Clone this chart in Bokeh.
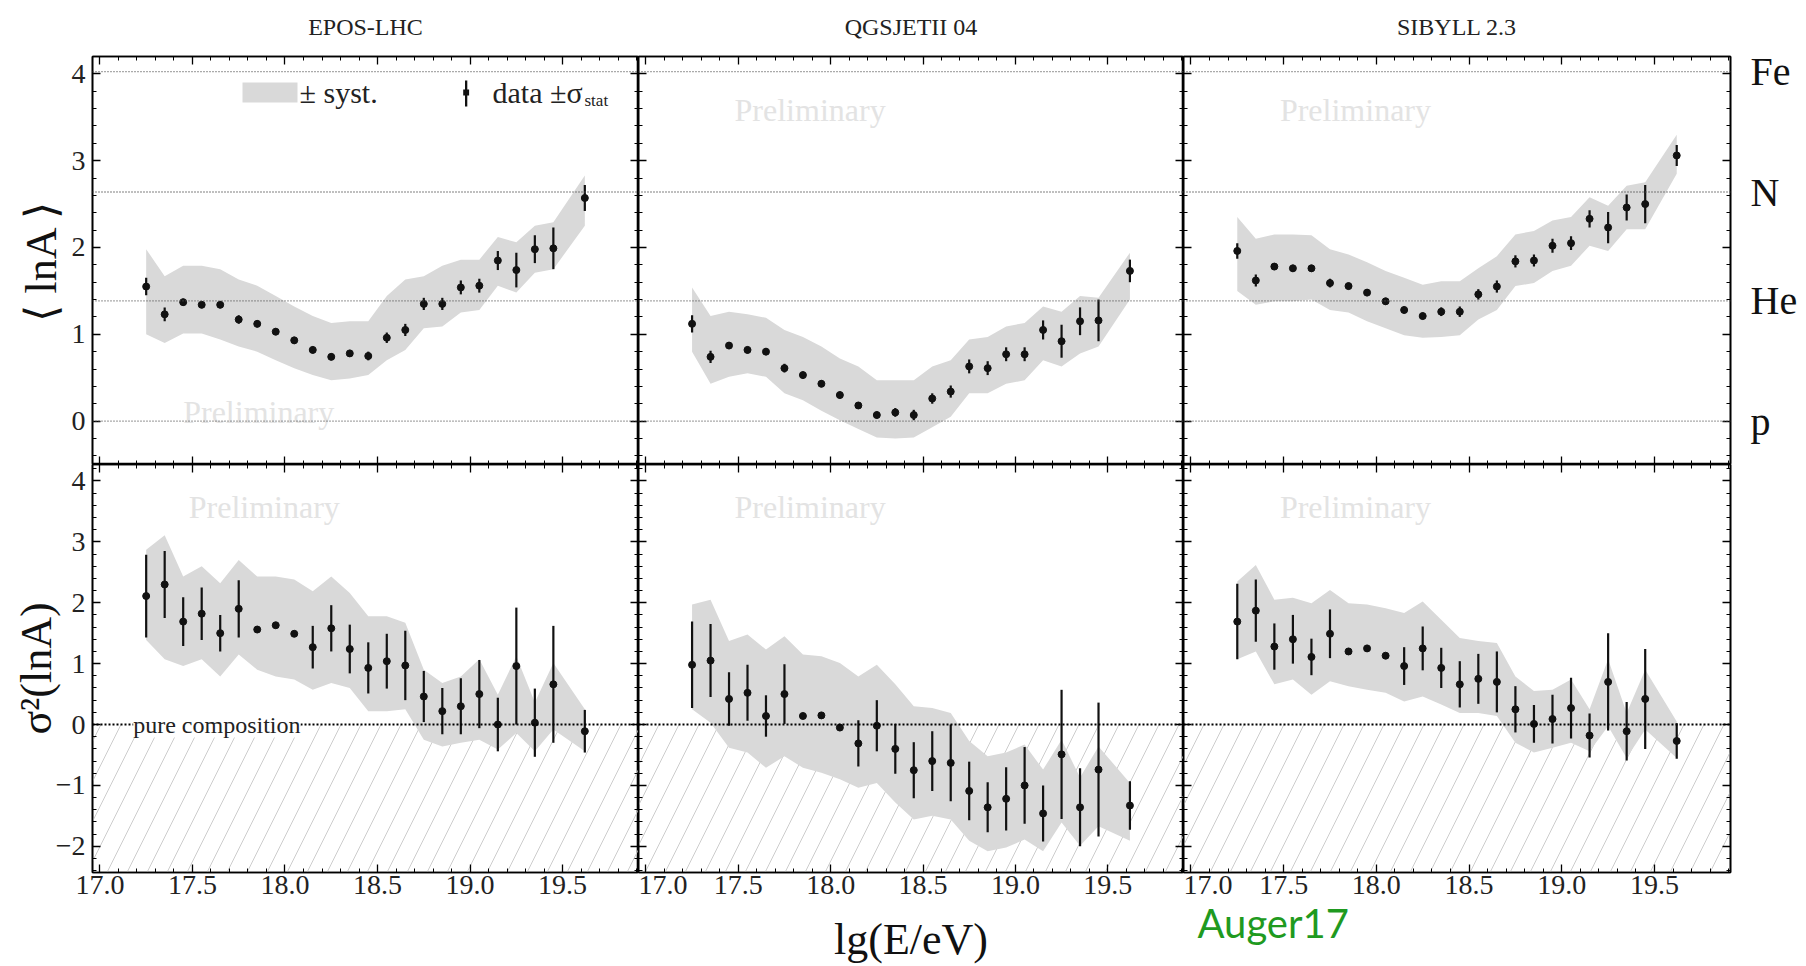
from bokeh.plotting import figure
from bokeh.layouts import column, row
from bokeh.models import (Range1d, Span, Label, BoxAnnotation, FixedTicker, LinearAxis, Grid, Title,
                          SingleIntervalTicker, PrintfTickFormatter, CustomJSTickFormatter,
                          ColumnDataSource)
from bokeh.embed import file_html
from bokeh.resources import INLINE
from bokeh.core.properties import value

SERIF = "Liberation Serif"

# ---------------- data ----------------
lgE = [17.25, 17.35, 17.45, 17.55, 17.65, 17.75, 17.85, 17.95, 18.05, 18.15, 18.25, 18.35,
       18.45, 18.55, 18.65, 18.75, 18.85, 18.95, 19.05, 19.15, 19.25, 19.35, 19.45, 19.62]

model_names = ["EPOS-LHC", "QGSJETII 04", "SIBYLL 2.3"]
element_names = ["p", "He", "N", "Fe"]
element_lnA = [0.0, 1.386, 2.639, 4.025]

# <lnA>
epos_mean = [1.55, 1.23, 1.37, 1.34, 1.34, 1.17, 1.12, 1.03, 0.93, 0.82, 0.74, 0.78, 0.75, 0.96, 1.05, 1.35, 1.35, 1.54, 1.56, 1.85, 1.74, 1.98, 1.99, 2.57]
epos_mean_err = [0.10, 0.08, 0.04, 0.04, 0.04, 0.05, 0.04, 0.04, 0.04, 0.04, 0.04, 0.04, 0.05, 0.06, 0.07, 0.07, 0.07, 0.08, 0.08, 0.11, 0.20, 0.16, 0.24, 0.15]
epos_mean_hi = [1.98, 1.67, 1.79, 1.79, 1.75, 1.63, 1.56, 1.44, 1.32, 1.21, 1.13, 1.15, 1.15, 1.44, 1.63, 1.67, 1.79, 1.86, 1.86, 2.12, 2.06, 2.25, 2.29, 2.83]
epos_mean_lo = [1.00, 0.90, 1.01, 1.01, 0.94, 0.86, 0.80, 0.70, 0.61, 0.53, 0.47, 0.49, 0.53, 0.70, 0.82, 1.07, 1.09, 1.25, 1.28, 1.56, 1.48, 1.71, 1.75, 2.25]

qgs_mean = [1.12, 0.74, 0.87, 0.82, 0.80, 0.61, 0.53, 0.43, 0.30, 0.18, 0.07, 0.10, 0.07, 0.26, 0.34, 0.63, 0.61, 0.77, 0.77, 1.05, 0.92, 1.15, 1.16, 1.73]
qgs_mean_err = [0.10, 0.07, 0.04, 0.04, 0.04, 0.05, 0.04, 0.04, 0.04, 0.04, 0.04, 0.05, 0.06, 0.06, 0.07, 0.08, 0.08, 0.08, 0.08, 0.11, 0.19, 0.16, 0.24, 0.13]
qgs_mean_hi = [1.54, 1.21, 1.26, 1.23, 1.19, 1.05, 0.97, 0.86, 0.72, 0.63, 0.47, 0.47, 0.47, 0.63, 0.70, 0.94, 0.97, 1.09, 1.13, 1.32, 1.26, 1.44, 1.42, 1.94]
qgs_mean_lo = [0.80, 0.43, 0.51, 0.55, 0.51, 0.32, 0.24, 0.12, 0.01, -0.09, -0.19, -0.20, -0.19, -0.07, 0.05, 0.32, 0.32, 0.43, 0.47, 0.70, 0.63, 0.78, 0.86, 1.40]

sib_mean = [1.96, 1.62, 1.78, 1.76, 1.76, 1.59, 1.555, 1.48, 1.38, 1.28, 1.21, 1.26, 1.26, 1.46, 1.55, 1.84, 1.85, 2.02, 2.05, 2.33, 2.23, 2.46, 2.50, 3.06]
sib_mean_err = [0.09, 0.07, 0.04, 0.04, 0.04, 0.05, 0.04, 0.04, 0.04, 0.04, 0.04, 0.05, 0.06, 0.06, 0.07, 0.07, 0.07, 0.08, 0.08, 0.10, 0.18, 0.15, 0.22, 0.12]
sib_mean_hi = [2.35, 2.10, 2.15, 2.15, 2.14, 1.98, 1.92, 1.83, 1.73, 1.65, 1.57, 1.61, 1.61, 1.76, 1.90, 2.15, 2.19, 2.31, 2.35, 2.58, 2.48, 2.71, 2.75, 3.30]
sib_mean_lo = [1.50, 1.34, 1.38, 1.38, 1.40, 1.28, 1.25, 1.15, 1.07, 0.99, 0.96, 0.97, 0.99, 1.17, 1.28, 1.555, 1.59, 1.73, 1.79, 2.02, 1.96, 2.21, 2.21, 2.85]

# sigma^2(lnA)
epos_var = [2.11, 2.30, 1.69, 1.82, 1.50, 1.90, 1.56, 1.63, 1.49, 1.27, 1.58, 1.24, 0.93, 1.04, 0.97, 0.46, 0.22, 0.30, 0.50, 0.00, 0.96, 0.03, 0.66, -0.11]
epos_var_err = [0.68, 0.55, 0.40, 0.43, 0.30, 0.47, 0.05, 0.05, 0.05, 0.35, 0.38, 0.40, 0.42, 0.45, 0.57, 0.42, 0.38, 0.46, 0.56, 0.44, 0.96, 0.56, 0.96, 0.35]
epos_var_hi = [2.87, 3.11, 2.43, 2.60, 2.32, 2.70, 2.43, 2.43, 2.38, 2.19, 2.43, 2.16, 1.78, 1.78, 1.67, 0.90, 0.68, 0.79, 1.07, 0.49, 1.12, 0.36, 1.01, 0.25]
epos_var_lo = [1.39, 1.07, 0.96, 1.07, 0.79, 1.15, 0.90, 0.79, 0.74, 0.57, 0.68, 0.60, 0.22, 0.22, 0.25, -0.25, -0.36, -0.30, -0.25, -0.41, -0.14, -0.44, -0.08, -0.44]

qgs_var = [0.98, 1.05, 0.42, 0.52, 0.14, 0.50, 0.14, 0.15, -0.05, -0.31, -0.02, -0.40, -0.75, -0.60, -0.63, -1.09, -1.36, -1.22, -1.00, -1.46, -0.49, -1.36, -0.74, -1.33]
qgs_var_err = [0.71, 0.60, 0.44, 0.46, 0.34, 0.49, 0.05, 0.05, 0.05, 0.38, 0.42, 0.41, 0.46, 0.49, 0.63, 0.48, 0.41, 0.52, 0.63, 0.46, 1.06, 0.64, 1.10, 0.40]
qgs_var_hi = [1.97, 2.05, 1.37, 1.48, 1.23, 1.45, 1.15, 1.12, 1.01, 0.79, 0.98, 0.66, 0.30, 0.27, 0.19, -0.27, -0.52, -0.46, -0.33, -0.74, -0.25, -0.87, -0.36, -0.96]
qgs_var_lo = [0.25, 0.03, -0.38, -0.46, -0.71, -0.52, -0.71, -0.79, -0.90, -1.04, -0.96, -1.28, -1.56, -1.50, -1.56, -1.91, -2.08, -2.02, -1.89, -2.08, -1.61, -1.99, -1.67, -1.91]

sib_var = [1.69, 1.87, 1.28, 1.40, 1.11, 1.49, 1.20, 1.25, 1.13, 0.96, 1.25, 0.93, 0.66, 0.75, 0.70, 0.25, 0.01, 0.09, 0.27, -0.18, 0.70, -0.11, 0.42, -0.27]
sib_var_err = [0.62, 0.51, 0.38, 0.40, 0.30, 0.40, 0.05, 0.05, 0.05, 0.31, 0.36, 0.33, 0.38, 0.41, 0.50, 0.38, 0.31, 0.40, 0.50, 0.36, 0.80, 0.48, 0.82, 0.29]
sib_var_hi = [2.35, 2.62, 2.05, 2.08, 1.99, 2.21, 1.99, 1.97, 1.91, 1.83, 2.02, 1.72, 1.42, 1.37, 1.34, 0.79, 0.55, 0.57, 0.74, 0.25, 1.07, 0.19, 0.90, 0.05]
sib_var_lo = [1.07, 1.20, 0.66, 0.74, 0.49, 0.71, 0.63, 0.57, 0.52, 0.38, 0.46, 0.33, 0.19, 0.19, 0.14, -0.30, -0.46, -0.38, -0.30, -0.44, -0.03, -0.55, -0.08, -0.55]

panel_data = [
    [(epos_mean, epos_mean_err, epos_mean_lo, epos_mean_hi),
     (qgs_mean, qgs_mean_err, qgs_mean_lo, qgs_mean_hi),
     (sib_mean, sib_mean_err, sib_mean_lo, sib_mean_hi)],
    [(epos_var, epos_var_err, epos_var_lo, epos_var_hi),
     (qgs_var, qgs_var_err, qgs_var_lo, qgs_var_hi),
     (sib_var, sib_var_err, sib_var_lo, sib_var_hi)],
]

# ---------------- layout constants ----------------
XMIN, XMAX = 16.96, 19.91
YRANGES = [(-0.5, 4.2), (-2.43, 4.27)]
FRAME_W = [546, 545, 547]
FRAME_H = [408, 409]
LEFT_B, RIGHT_B, TOP_B, BOTTOM_B = 92, 76, 56, 93
BAND = "#d9d9d9"
INK = "#111111"
TICK_FONT = "28px"


def fx(px, c):
    return XMIN + px / FRAME_W[c] * (XMAX - XMIN)


def fy(py, r):
    lo, hi = YRANGES[r]
    return hi - py / FRAME_H[r] * (hi - lo)


def style_axis(ax, labels):
    ax.axis_line_color = "black"
    ax.axis_line_width = 1.6
    ax.major_tick_in = 8
    ax.major_tick_out = 0
    ax.minor_tick_in = 4
    ax.minor_tick_out = 0
    ax.major_tick_line_color = "black"
    ax.major_tick_line_width = 1.3
    ax.minor_tick_line_color = "black"
    ax.minor_tick_line_width = 1.0
    if labels:
        ax.major_label_text_font = SERIF
        ax.major_label_text_font_size = TICK_FONT
        ax.major_label_text_color = "#222222"
    else:
        ax.formatter = CustomJSTickFormatter(code="return ''")
        ax.major_label_text_font_size = "0px"
        ax.major_label_standoff = 0


def xaxis(labels):
    ax = LinearAxis(ticker=SingleIntervalTicker(interval=0.5, num_minor_ticks=5),
                    formatter=PrintfTickFormatter(format="%.1f"))
    style_axis(ax, labels)
    if labels:
        ax.major_label_standoff = 3
    return ax


def yaxis(labels):
    ax = LinearAxis(ticker=SingleIntervalTicker(interval=1, num_minor_ticks=5),
                    major_label_overrides={-1: "\u22121", -2: "\u22122"})
    style_axis(ax, labels)
    if labels:
        ax.major_label_standoff = 7
    return ax


def big_label(ax, text, size, standoff, font=SERIF, color="#111111"):
    ax.axis_label = text
    ax.axis_label_text_font = font
    ax.axis_label_text_font_size = size
    ax.axis_label_text_font_style = "normal"
    ax.axis_label_text_color = color
    ax.axis_label_standoff = standoff


def make_panel(r, c):
    bl = LEFT_B if c == 0 else 0
    br = RIGHT_B if c == 2 else 0
    bt = TOP_B if r == 0 else 0
    bb = BOTTOM_B if r == 1 else 0
    p = figure(width=FRAME_W[c] + bl + br, height=FRAME_H[r] + bt + bb,
               x_range=Range1d(XMIN, XMAX), y_range=Range1d(*YRANGES[r]),
               min_border_left=bl, min_border_right=br, min_border_top=bt, min_border_bottom=bb,
               x_axis_location=None, y_axis_location=None, title=None,
               output_backend="svg", toolbar_location=None)
    p.outline_line_color = "black"
    p.outline_line_width = 1.6
    p.background_fill_color = "white"
    p.border_fill_color = "white"
    for g in p.select({"type": Grid}):
        g.visible = False

    # axes
    left = yaxis(c == 0)
    if c == 0:
        if r == 0:
            big_label(left, "\u27e8 lnA \u27e9", "44px", 3)
        else:
            big_label(left, "\u03c3\u00b2(lnA)", "44px", -8)
    p.add_layout(left, "left")
    p.add_layout(yaxis(False), "right")
    top = xaxis(False)
    if r == 0:
        big_label(top, model_names[c], "24px", 17, color="#222222")
    p.add_layout(top, "above")
    bottom = xaxis(r == 1)
    if r == 1 and c == 1:
        big_label(bottom, "lg(E/eV)", "44px", 18)
    p.add_layout(bottom, "below")

    if r == 0 and c == 2:
        el = LinearAxis(ticker=FixedTicker(ticks=element_lnA),
                        major_label_overrides={v: n for v, n in zip(element_lnA, element_names)})
        el.axis_line_color = None
        el.major_tick_line_color = None
        el.minor_tick_line_color = None
        el.major_tick_in = 0
        el.major_tick_out = 0
        el.major_label_standoff = 20
        el.major_label_text_font = SERIF
        el.major_label_text_font_size = "40px"
        el.major_label_text_color = "#111111"
        p.add_layout(el, "right")

    if r == 1 and c == 2:
        # empty spacer axis (only reserves room), then the note as a left-aligned title
        spacer = LinearAxis(ticker=FixedTicker(ticks=[]))
        spacer.axis_line_color = None
        spacer.major_tick_line_color = None
        spacer.minor_tick_line_color = None
        spacer.major_tick_in = 0
        spacer.major_tick_out = 0
        spacer.minor_tick_in = 0
        spacer.minor_tick_out = 0
        spacer.formatter = CustomJSTickFormatter(code="return ''")
        spacer.major_label_text_font_size = "0px"
        spacer.major_label_standoff = 0
        spacer.axis_label = "\u00a0"
        spacer.axis_label_text_font_size = "0px"
        spacer.axis_label_standoff = 19
        p.add_layout(spacer, "below")
        p.add_layout(Title(text="Auger17", align="left", offset=14, standoff=0,
                           vertical_align="bottom", text_font="Lato", text_font_size="40px",
                           text_font_style="normal", text_color="#1f9a1f"), "below")

    mean, err, lo, hi = panel_data[r][c]

    # hatched "unphysical" region below zero in the variance panels
    if r == 1:
        p.quad(left=XMIN, right=XMAX, bottom=YRANGES[1][0], top=0,
               fill_color=None, line_color=None, hatch_pattern="/",
               hatch_color="#cdcdcd", hatch_scale=40, hatch_weight=1.0)

    # Preliminary watermark
    if r == 0 and c == 0:
        px, py = 17.45, 0.1
    else:
        px, py = 17.48, 3.58
    p.text(x=[px], y=[py], text=["Preliminary"], text_font=value(SERIF),
           text_font_size="32px", text_color="#e3e3e3", text_baseline="middle")

    # systematic band
    p.varea(x=lgE, y1=lo, y2=hi, fill_color=BAND, fill_alpha=1.0)

    # reference lines
    if r == 0:
        for v in element_lnA:
            p.add_layout(Span(location=v, dimension="width", line_color="#555555",
                              line_dash="1 2", line_width=1.3))
    else:
        p.add_layout(Span(location=0, dimension="width", line_color="black",
                          line_dash="2 2", line_width=2.0))
        if c == 0:
            p.add_layout(Label(x=17.18, y=0, text="pure composition", text_font=SERIF,
                               text_font_size="24px", text_color="#222222",
                               text_baseline="middle", background_fill_color="white"))

    # data points with statistical error bars
    src = ColumnDataSource(dict(x=lgE, y=mean,
                                y0=[m - e for m, e in zip(mean, err)],
                                y1=[m + e for m, e in zip(mean, err)]))
    p.segment(x0="x", y0="y0", x1="x", y1="y1", source=src, line_color=INK, line_width=2.2)
    p.scatter(x="x", y="y", source=src, size=7, color=INK)

    # legend in first panel
    if r == 0 and c == 0:
        p.add_layout(BoxAnnotation(left=fx(150, 0), right=fx(205, 0), top=fy(26, 0), bottom=fy(46, 0),
                                   fill_color=BAND, fill_alpha=1.0, line_color=None))
        p.add_layout(Label(x=fx(207, 0), y=fy(36, 0), text="\u00b1  syst.", text_font=SERIF,
                           text_font_size="30px", text_color="#222222", text_baseline="middle"))
        p.add_layout(BoxAnnotation(left=fx(372.5, 0), right=fx(374.8, 0), top=fy(24, 0), bottom=fy(50, 0),
                                   fill_color=INK, fill_alpha=1.0, line_color=None))
        p.add_layout(BoxAnnotation(left=fx(370.7, 0), right=fx(376.6, 0), top=fy(33, 0), bottom=fy(39, 0),
                                   fill_color=INK, fill_alpha=1.0, line_color=None))
        p.add_layout(Label(x=fx(400, 0), y=fy(36, 0), text="data \u00b1\u03c3", text_font=SERIF,
                           text_font_size="30px", text_color="#222222", text_baseline="middle"))
        p.add_layout(Label(x=fx(492, 0), y=fy(44, 0), text="stat", text_font=SERIF,
                           text_font_size="17px", text_color="#222222", text_baseline="middle"))
    return p


panels = [[make_panel(r, c) for c in range(3)] for r in range(2)]
layout = column(row(*panels[0]), row(*panels[1]))

open("out.html", "w").write(file_html(layout, INLINE))
